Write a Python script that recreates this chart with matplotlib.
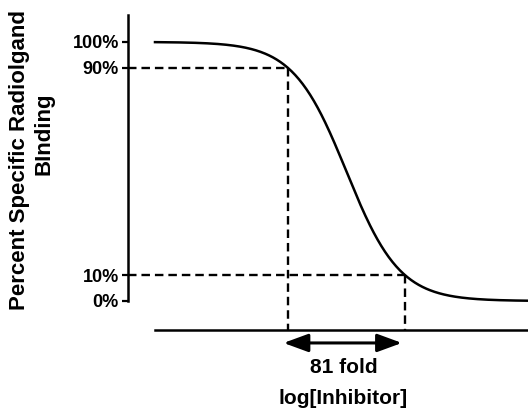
import numpy as np
import matplotlib
matplotlib.use("Agg")
import matplotlib.pyplot as plt

# one-site competition curve (Hill equation)
top = 100.0
bottom = 0.0
log_ic50 = -6.0
hill_slope = -1.0
curve_x_range = [-9.12, -3.04]

ytick_values = [0, 10, 90, 100]
ytick_labels = ["0%", "10%", "90%", "100%"]
ylabel_lines = ["Percent Specific Radiolgand", "BInding"]


def binding(x):
    return bottom + (top - bottom) / (1 + 10 ** ((log_ic50 - x) * hill_slope))


def main():
    plt.rcParams["font.family"] = ["Liberation Sans", "DejaVu Sans"]
    plt.rcParams["font.weight"] = "bold"

    fig = plt.figure(figsize=(5.28, 4.11), dpi=100)
    ax = fig.add_axes([128 / 528, 81 / 411, 400 / 528, 315 / 411])

    xmin = -9.56
    ymin, ymax = -11.2, 110.4
    ax.set_xlim(xmin, curve_x_range[1])
    ax.set_ylim(ymin, ymax)

    x = np.linspace(curve_x_range[0], curve_x_range[1], 400)
    ax.plot(x, binding(x), color="black", lw=1.8)

    # concentrations giving 90% and 10% binding
    x90 = log_ic50 + np.log10(9) / hill_slope
    x10 = log_ic50 - np.log10(9) / hill_slope
    fold = 10 ** (x10 - x90)

    dash = (0, (3.6, 2.1))
    for xc, yc in [(x90, 90), (x10, 10)]:
        ax.plot([xmin, xc], [yc, yc], color="black", lw=1.7, ls=dash, clip_on=False)
        ax.plot([xc, xc], [yc, ymin], color="black", lw=1.7, ls=dash, clip_on=False)

    ax.annotate("", xy=(x10 - 0.05, -16.2), xytext=(x90 - 0.07, -16.2),
                arrowprops=dict(arrowstyle="<|-|>,head_length=1.5,head_width=0.55",
                                color="black", lw=2.2, shrinkA=0, shrinkB=0),
                annotation_clip=False)
    ax.text((x90 + x10) / 2 - 0.04, -25.5, f"{fold:.0f} fold", ha="center", va="center",
            fontsize=15, fontweight="bold", clip_on=False)

    ax.spines["top"].set_visible(False)
    ax.spines["right"].set_visible(False)
    ax.spines["left"].set_linewidth(1.8)
    ax.spines["bottom"].set_linewidth(1.8)
    ax.spines["left"].set_bounds(0, ymax)
    ax.spines["bottom"].set_bounds(curve_x_range[0], curve_x_range[1])

    ax.set_yticks(ytick_values)
    ax.set_yticklabels(ytick_labels)
    ax.tick_params(axis="y", length=4.5, width=1.6, pad=2, labelsize=13)
    ax.tick_params(axis="x", bottom=False, labelbottom=False)

    ax.set_xlabel("log[Inhibitor]", fontsize=15, fontweight="bold")
    ax.xaxis.set_label_coords(0.5375, -0.216)
    ax.xaxis.label.set_va("center")

    # two-line y label, each line placed on its own
    for text, (px, py) in zip(ylabel_lines, [(20, 160), (44, 134)]):
        fig.text(px / 528, 1 - py / 411, text, rotation=90, ha="center", va="center",
                 fontsize=16, fontweight="bold")

    fig.savefig("out.png", dpi=100)


if __name__ == "__main__":
    main()
